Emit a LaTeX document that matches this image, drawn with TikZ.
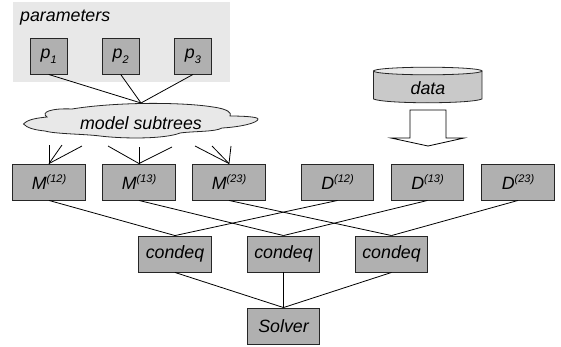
\documentclass[tikz,border=0pt]{standalone}
\usepackage{fontspec}
\setmainfont{Liberation Sans}
\newcommand{\bigtxt}{\fontsize{17.8}{20}\selectfont\itshape}
\newcommand{\supp}[1]{\raisebox{6.5pt}{\fontsize{11}{12}\selectfont\itshape #1}}
\newcommand{\pname}[1]{\raisebox{-2.5pt}{p\raisebox{-5pt}{\fontsize{11}{12}\selectfont\itshape #1}}}
\definecolor{boxgray}{gray}{0.69}
\definecolor{panelgray}{gray}{0.91}
\tikzset{
  box/.style={draw=black!85,line width=0.9pt,fill=boxgray,minimum width=72.5pt,minimum height=36pt,inner sep=0pt,font=\bigtxt,text=black},
  pbox/.style={box,minimum width=36.5pt},
  link/.style={draw=black,line width=0.8pt},
}
\begin{document}
\begin{tikzpicture}[x=1pt,y=-1pt]
\useasboundingbox (0,0) rectangle (561,346);
\fill[panelgray] (13,2) rectangle (230,82);
\node[font=\bigtxt,anchor=west,inner sep=0pt,text=black] (ptitle) at (20,18) {parameters};
\node[pbox] (p1) at (48.7,56) {\pname{1}};
\node[pbox] (p2) at (120.7,56) {\pname{2}};
\node[pbox] (p3) at (193,56) {\pname{3}};
% cloud
\draw[draw=black!85,line width=0.8pt,fill=panelgray]
  (23.5,124) .. controls (28,119) and (38,118) .. (47,117)
  .. controls (40,112) and (52,108) .. (72,109)
  .. controls (90,106) and (115,104) .. (141,103.5)
  .. controls (165,103) and (195,104) .. (213,107)
  .. controls (228,109) and (232,113) .. (230,116)
  .. controls (245,116) and (258,117) .. (258,119)
  .. controls (258,123) and (240,127) .. (222,128)
  .. controls (215,132) and (195,131) .. (180,133)
  .. controls (165,139) and (125,139) .. (100,136)
  .. controls (85,134) and (55,134) .. (45,131)
  .. controls (35,130) and (27,128) .. (23.5,124) -- cycle;
\node[font=\bigtxt,inner sep=0pt,text=black] (cloudtxt) at (141,123) {model subtrees};
\coordinate (cloudtop) at (141,103);
\draw[link] (p1.south) -- (cloudtop);
\draw[link] (p2.south) -- (cloudtop);
\draw[link] (p3.south) -- (cloudtop);
% cylinder
\draw[draw=black!85,line width=0.8pt,fill=black!21]
  (373.5,71) -- (373.5,99) .. controls (385,104) and (470,104) .. (482,99) -- (482,71) -- cycle;
\draw[draw=black!85,line width=0.8pt,fill=panelgray] (427.75,71) ellipse [x radius=54.25,y radius=3.8];
\node[font=\bigtxt,inner sep=0pt,text=black] (data) at (428,88) {data};
% arrow
\draw[draw=black,line width=0.8pt,fill=white]
  (410,110) -- (446,110) -- (446,138) -- (464,138) -- (428,146) -- (391,138) -- (410,138) -- cycle;
% M, D
\node[box] (m12) at (49,182) {M\supp{(12)}};
\node[box] (m13) at (139,182) {M\supp{(13)}};
\node[box] (m23) at (229,182) {M\supp{(23)}};
\node[box] (d12) at (337.5,182) {D\supp{(12)}};
\node[box] (d13) at (427.5,182) {D\supp{(13)}};
\node[box] (d23) at (518,182) {D\supp{(23)}};
% fans
\coordinate (a1) at (49,145); \coordinate (a2) at (62,145); \coordinate (a3) at (82,146);
\coordinate (b1) at (108,146); \coordinate (b2) at (139,147); \coordinate (b3) at (172,147);
\coordinate (c1) at (195,146); \coordinate (c2) at (212,146); \coordinate (c3) at (231,146);
\foreach \e in {a1,a2,a3} \draw[link] (m12.north) -- (\e);
\foreach \e in {b1,b2,b3} \draw[link] (m13.north) -- (\e);
\foreach \e in {c1,c2,c3} \draw[link] (m23.north) -- (\e);
% condeq, solver
\node[box] (c1n) at (175,254) {condeq};
\node[box] (c2n) at (283.5,254) {condeq};
\node[box] (c3n) at (391.5,254) {condeq};
\node[box] (solver) at (283.5,326) {Solver};
\draw[link] (m12.south) -- (c1n.north);
\draw[link] (d12.south) -- (c1n.north);
\draw[link] (m13.south) -- (c2n.north);
\draw[link] (d13.south) -- (c2n.north);
\draw[link] (m23.south) -- (c3n.north);
\draw[link] (d23.south) -- (c3n.north);
\draw[link] (c1n.south) -- (solver.north);
\draw[link] (c2n.south) -- (solver.north);
\draw[link] (c3n.south) -- (solver.north);
\end{tikzpicture}
\end{document}
